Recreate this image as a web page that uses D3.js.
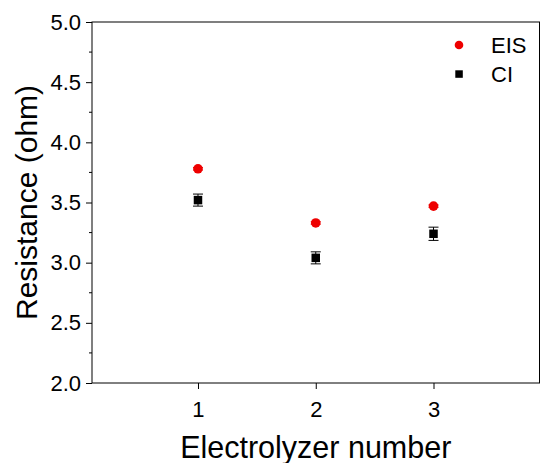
<!DOCTYPE html>
<html><head><meta charset="utf-8">
<script src="https://cdn.jsdelivr.net/npm/d3@7"></script>
<style>body{margin:0;background:#fff}svg{display:block;font-family:Arial,"Liberation Sans",sans-serif}</style>
</head><body><svg id="c" width="542" height="463"></svg>
<script>
const categories = [1, 2, 3];
const eisValues = [3.78, 3.33, 3.47];
const eisErrors = [0.01, 0.01, 0.01];
const ciValues = [3.52, 3.04, 3.24];
const ciErrors = [0.05, 0.05, 0.055];
const yTicks = [2.0, 2.5, 3.0, 3.5, 4.0, 4.5, 5.0];
const yMinorTicks = [2.25, 2.75, 3.25, 3.75, 4.25, 4.75];
const xTicks = [1, 2, 3];
const seriesNames = ["EIS", "CI"];
const seriesColors = ["#ee0000", "#000000"];

const svg = d3.select("#c");
const L = 92, R = 539.5, T = 22, B = 383;
const x = d3.scaleLinear().domain([0.1, 3.9]).range([L, R]);
const y = d3.scaleLinear().domain([2, 5]).range([B, T]);

// frame
svg.append("rect").attr("x", L).attr("y", T).attr("width", R - L).attr("height", B - T)
  .attr("fill", "none").attr("stroke", "#000").attr("stroke-width", 1);

// y axis
const ya = svg.append("g").attr("transform", `translate(${L},0)`)
  .call(d3.axisLeft(y).tickValues(yTicks).tickFormat(d3.format(".1f")).tickSize(6).tickPadding(5));
ya.append("g").selectAll("line").data(yMinorTicks).join("line")
  .attr("x1", 0).attr("x2", -3).attr("y1", d => y(d)).attr("y2", d => y(d)).attr("stroke", "#000");
// x axis
const xa = svg.append("g").attr("transform", `translate(0,${B})`)
  .call(d3.axisBottom(x).tickValues(xTicks).tickFormat(d3.format("d")).tickSize(6).tickPadding(12));
[ya, xa].forEach(a => {
  a.select(".domain").remove();
  a.selectAll("text").attr("font-size", 22).attr("fill", "#000").attr("font-family", "Arial, 'Liberation Sans', sans-serif");
  a.selectAll("line").attr("stroke", "#000");
});

// titles
svg.append("text").attr("transform", `translate(37,${(T + B) / 2}) rotate(-90)`)
  .attr("text-anchor", "middle").attr("font-size", 30).text("Resistance (ohm)");
svg.append("text").attr("x", (L + R) / 2).attr("y", 458).attr("text-anchor", "middle")
  .attr("font-size", 30.5).text("Electrolyzer number");

// error bars
function errBars(vals, errs, color) {
  const g = svg.append("g").attr("stroke", color).attr("stroke-width", 1);
  categories.forEach((c, i) => {
    const cx = x(c), y1 = y(vals[i] - errs[i]), y2 = y(vals[i] + errs[i]);
    g.append("line").attr("x1", cx).attr("x2", cx).attr("y1", y1).attr("y2", y2);
    g.append("line").attr("x1", cx - 5).attr("x2", cx + 5).attr("y1", y1).attr("y2", y1);
    g.append("line").attr("x1", cx - 5).attr("x2", cx + 5).attr("y1", y2).attr("y2", y2);
  });
}
errBars(eisValues, eisErrors, seriesColors[0]);
errBars(ciValues, ciErrors, seriesColors[1]);

svg.append("g").selectAll("rect").data(categories).join("rect")
  .attr("x", (d, i) => x(d) - 4.25).attr("y", (d, i) => y(ciValues[i]) - 4.25)
  .attr("width", 8.5).attr("height", 8.5).attr("fill", seriesColors[1]);
svg.append("g").selectAll("circle").data(categories).join("circle")
  .attr("cx", d => x(d)).attr("cy", (d, i) => y(eisValues[i])).attr("r", 4.8)
  .attr("fill", seriesColors[0]);

// legend
const lg = svg.append("g");
lg.append("circle").attr("cx", 459).attr("cy", 45).attr("r", 4.3).attr("fill", seriesColors[0]);
lg.append("rect").attr("x", 455.3).attr("y", 70.3).attr("width", 7.5).attr("height", 7.5).attr("fill", seriesColors[1]);
seriesNames.forEach((n, i) => {
  lg.append("text").attr("x", 491).attr("y", 53 + i * 29).attr("font-size", 22).text(n);
});
</script></body></html>
